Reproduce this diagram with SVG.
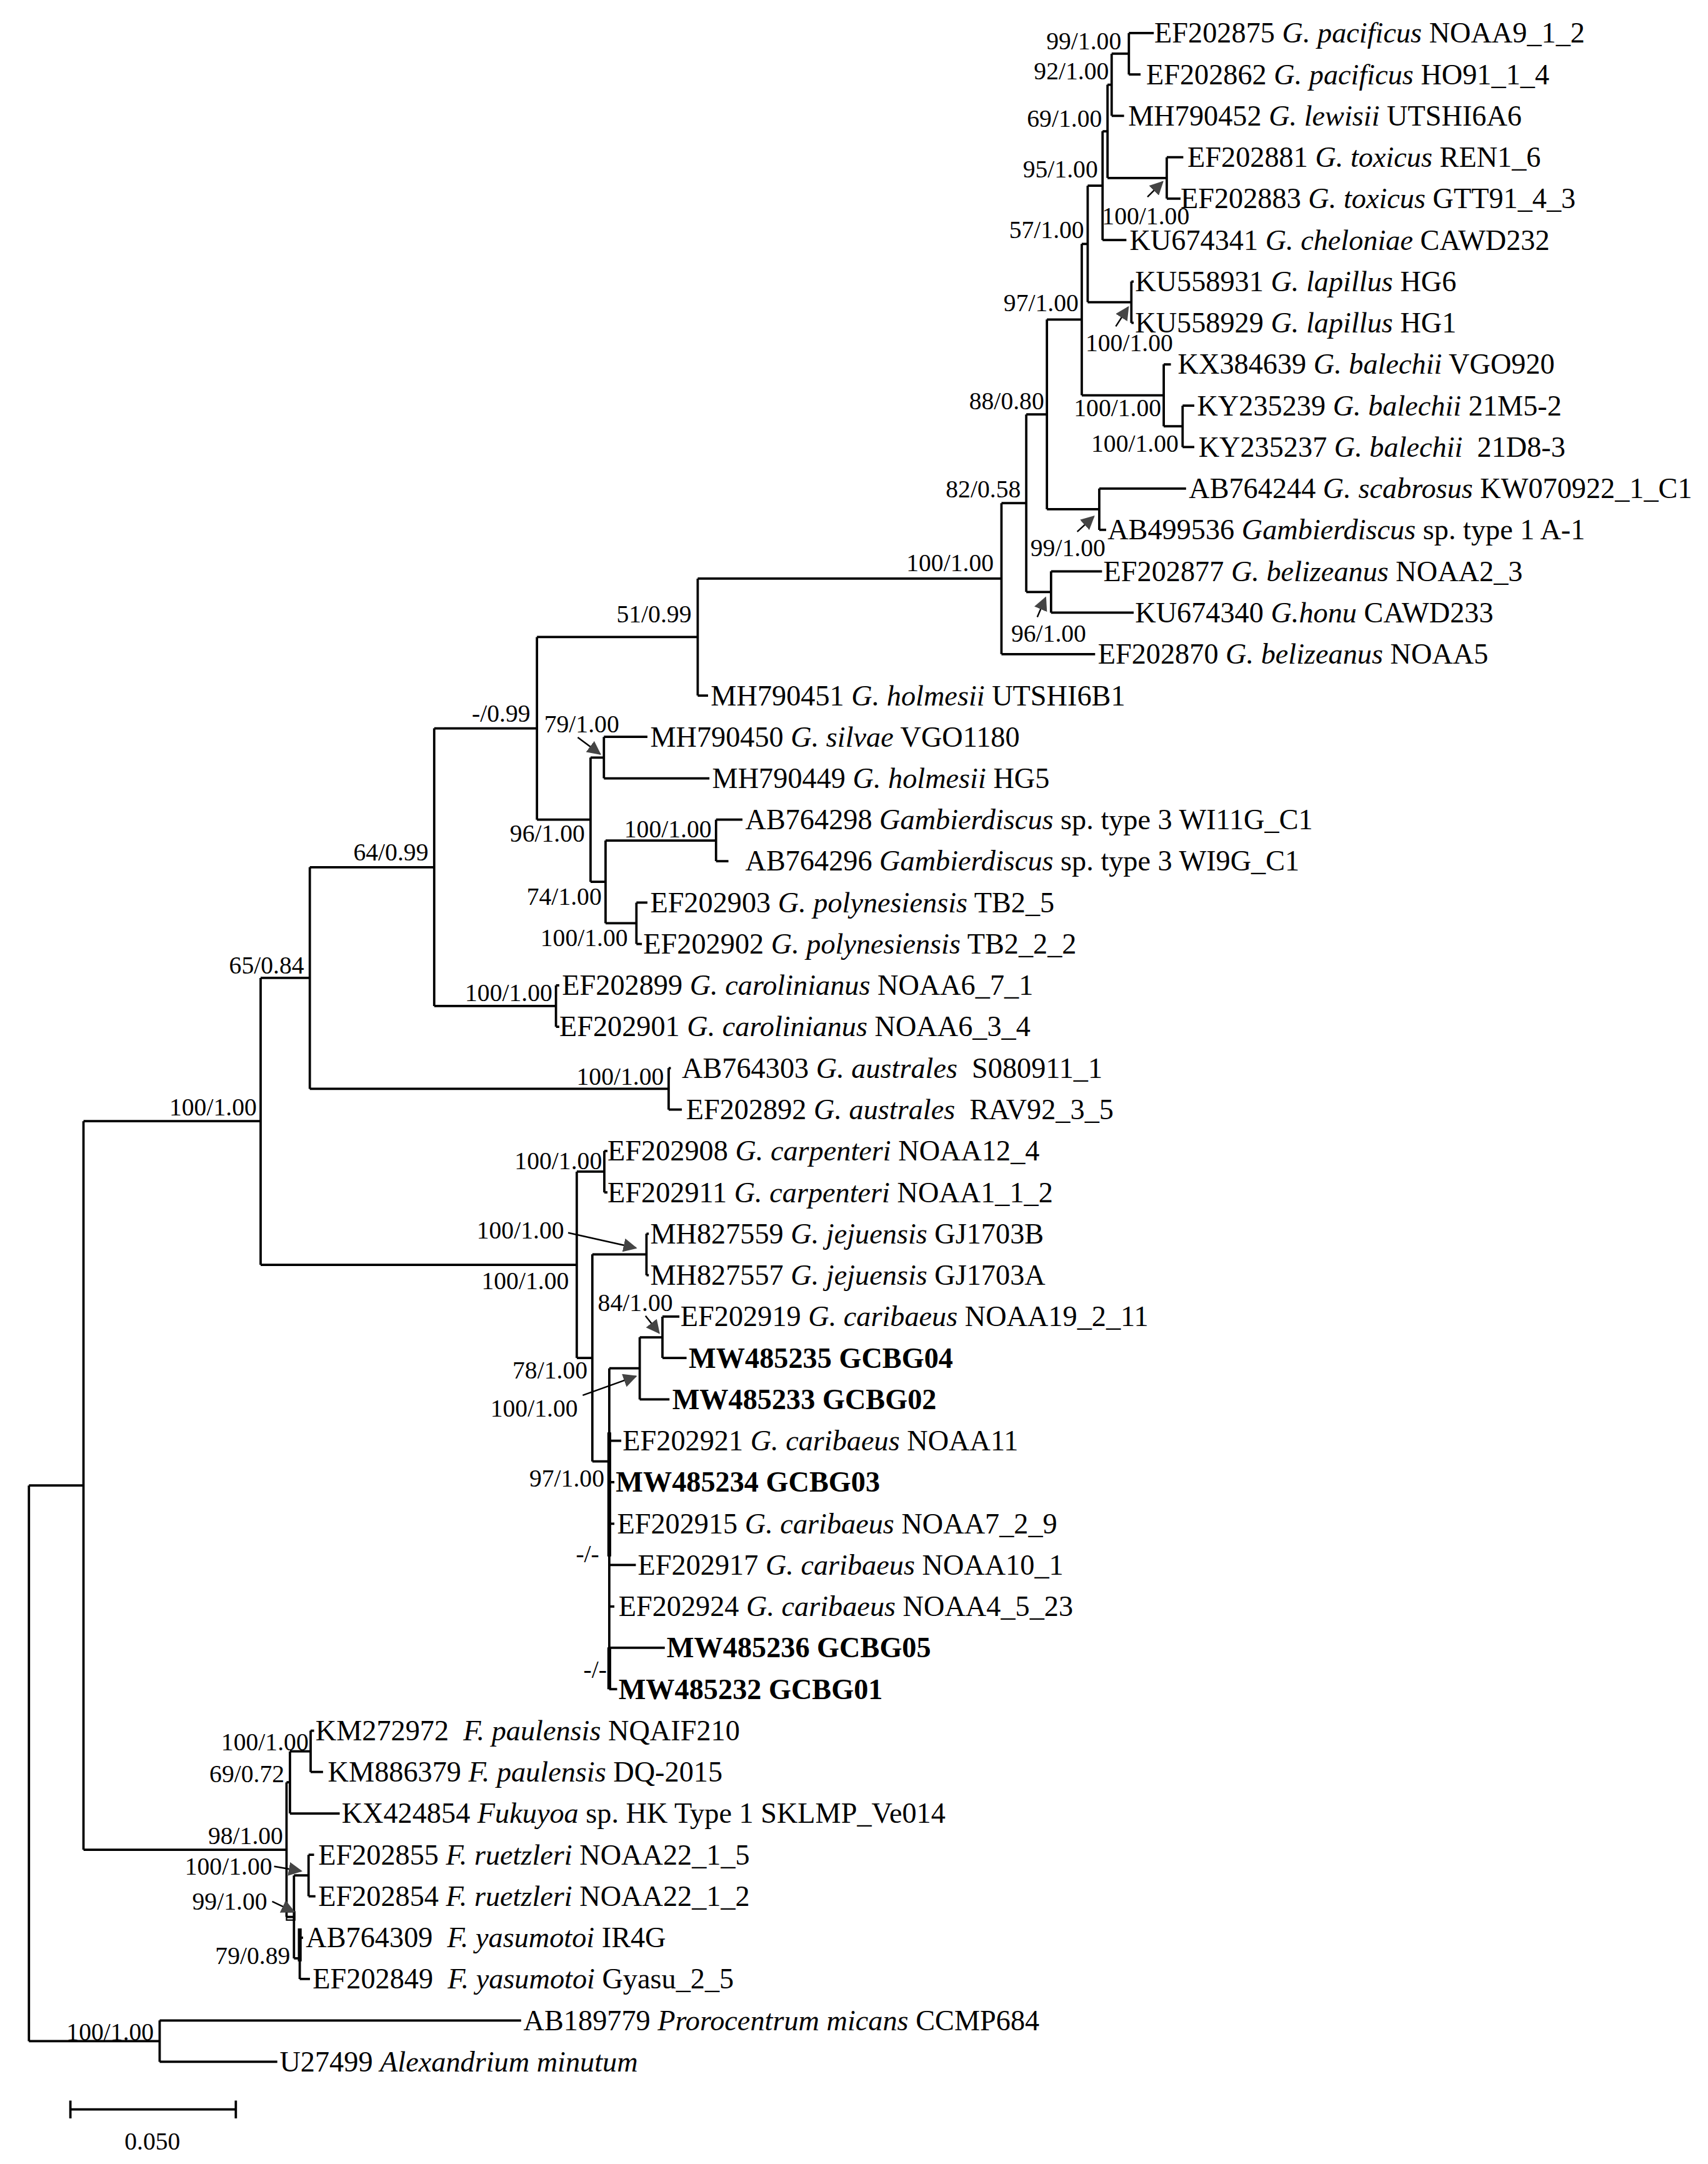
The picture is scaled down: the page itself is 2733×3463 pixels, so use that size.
<svg xmlns="http://www.w3.org/2000/svg" width="2733" height="3463" viewBox="0 0 2733 3463">
<style>
.br{fill:none;stroke:#000;stroke-width:1.7}
.th{fill:none;stroke:#000;stroke-width:2.8}
.ar{fill:none;stroke:#000;stroke-width:1.1;marker-end:url(#ah)}
text{font-family:"Liberation Serif","Times New Roman",serif;fill:#000}
.lf{font-size:21px}
.b{font-weight:bold}
.s{font-size:18px;text-anchor:end}
.ss{font-size:18px}
</style>
<defs>
<marker id="ah" markerUnits="userSpaceOnUse" markerWidth="10" markerHeight="10" refX="9" refY="5" orient="auto" viewBox="0 0 10 10"><path d="M0,0 L10,5 L0,10 z" fill="#444"/></marker>
</defs>
<rect width="2733" height="3463" fill="#fff"/>
<g transform="scale(2.2042)">
<g id="connectors">
<path class="br" d="M819.5 24V54.1M819.5 24H837.6M819.5 54.1H828
M807 39V84.1M807 39H819.5M807 84.1H816
M847 114.2V144.2M847 114.2H859M847 144.2H857
M804 61.5V129.2M804 61.5H807M804 129.2H847
M800.4 95.3V174.3M800.4 95.3H804M800.4 174.3H817.7
M821.3 204.4V234.4M821.3 204.4H823M821.3 234.4H823
M789.6 134.8V219.4M789.6 134.8H800.4M789.6 219.4H821.3
M858.5 294.5V324.6M858.5 294.5H867M858.5 324.6H867
M844.8 264.5V309.5M844.8 264.5H850M844.8 309.5H858.5
M785.3 177.1V287M785.3 177.1H789.6M785.3 287H844.8
M798 354.7V384.7M798 354.7H861M798 384.7H803
M760 232V369.7M760 232H785.3M760 369.7H798
M763 414.8V444.8M763 414.8H800M763 444.8H823
M745 300.9V429.8M745 300.9H760M745 429.8H763
M727 365.3V474.9M727 365.3H745M727 474.9H795
M506.5 420.1V505M506.5 420.1H727M506.5 505H514
M438.4 535V565.1M438.4 535H470M438.4 565.1H515
M519.8 595.1V625.2M519.8 595.1H539M519.8 625.2H528.8
M462 655.3V685.3M462 655.3H470M462 685.3H466
M439.6 610.2V670.3M439.6 610.2H519.8M439.6 670.3H462
M428.7 550V640.2M428.7 550H438.4M428.7 640.2H439.6
M389.8 462.5V595.1M389.8 462.5H506.5M389.8 595.1H428.7
M403.6 715.4V745.4M403.6 715.4H406M403.6 745.4H406
M315.2 528.8V730.4M315.2 528.8H389.8M315.2 730.4H403.6
M485.4 775.5V805.6M485.4 775.5H487M485.4 805.6H495
M224.9 629.6V790.5M224.9 629.6H315.2M224.9 790.5H485.4
M438.7 835.6V865.7M438.7 835.6H441M438.7 865.7H441
M469.3 895.7V925.8M469.3 895.7H471M469.3 925.8H471
M480.9 955.9V985.9M480.9 955.9H493.2M480.9 985.9H498.4
M464.4 970.9V1016M464.4 970.9H480.9M464.4 1016H486
M442.3 993.4V1226.4M442.3 993.4H464.4M442.3 1046H451M442.3 1076.1H446M442.3 1106.2H446M442.3 1136.2H461.6M442.3 1166.3H446M442.3 1196.3H482.6M442.3 1226.4H448
M430 910.7V1061M430 910.7H469.3M430 1061H442.3
M418.7 850.6V985.9M418.7 850.6H438.7M418.7 985.9H430
M189.2 710V918.3M189.2 710H224.9M189.2 918.3H418.7
M225.5 1256.5V1286.5M225.5 1256.5H228M225.5 1286.5H234.5
M210.5 1271.5V1316.6M210.5 1271.5H225.5M210.5 1316.6H246.6
M224 1346.6V1376.7M224 1346.6H228M224 1376.7H229
M217.6 1406.8V1436.8M217.6 1406.8H220M217.6 1436.8H225
M213.4 1361.6V1421.8M213.4 1361.6H224M213.4 1421.8H217.6
M208 1294V1391.7M208 1294H210.5M208 1391.7H213.4
M60.6 814V1342.9M60.6 814H189.2M60.6 1342.9H208
M115.9 1466.9V1496.9M115.9 1466.9H378.3M115.9 1496.9H201.3
M21 1078.5V1481.9M21 1078.5H60.6M21 1481.9H115.9"/>
<path class="th" d="M442.3 1040V1130M442.3 1196V1226.4M217.6 1400V1424"/>
<rect x="208" y="1388" width="6" height="6" fill="none" stroke="#000" stroke-width="1"/>
<path class="ar" d="M833 143L844 132"/>
<path class="ar" d="M810 237L819 223"/>
<path class="ar" d="M782 386L794 375"/>
<path class="ar" d="M753 448L759 434"/>
<path class="ar" d="M419.4 535.3L435.6 547.4"/>
<path class="ar" d="M412.4 895L461.6 906"/>
<path class="ar" d="M423 1013L461.6 999.2"/>
<path class="ar" d="M468.6 955.3L478.4 967.7"/>
<path class="ar" d="M199 1355L218.6 1358.4"/>
<path class="ar" d="M197.6 1380.5L213.4 1388"/>
<path class="br" d="M51.1 1531.5H171.2M51.1 1525V1538M171.2 1525V1538"/>
</g>
<g id="leaves" class="lf">
<g id="n0"><text x="838" y="31">EF202875 <tspan font-style="italic">G. pacificus</tspan> NOAA9_1_2</text></g>
<g id="n1"><text x="832" y="61.1">EF202862 <tspan font-style="italic">G. pacificus</tspan> HO91_1_4</text></g>
<g id="n2"><text x="819" y="91.1">MH790452 <tspan font-style="italic">G. lewisii</tspan> UTSHI6A6</text></g>
<g id="n3"><text x="862" y="121.2">EF202881 <tspan font-style="italic">G. toxicus</tspan> REN1_6</text></g>
<g id="n4"><text x="857" y="151.2">EF202883 <tspan font-style="italic">G. toxicus</tspan> GTT91_4_3</text></g>
<g id="n5"><text x="820" y="181.3">KU674341 <tspan font-style="italic">G. cheloniae</tspan> CAWD232</text></g>
<g id="n6"><text x="824" y="211.4">KU558931 <tspan font-style="italic">G. lapillus</tspan> HG6</text></g>
<g id="n7"><text x="824" y="241.4">KU558929 <tspan font-style="italic">G. lapillus</tspan> HG1</text></g>
<g id="n8"><text x="855" y="271.5">KX384639 <tspan font-style="italic">G. balechii</tspan> VGO920</text></g>
<g id="n9"><text x="869" y="301.5">KY235239 <tspan font-style="italic">G. balechii</tspan> 21M5-2</text></g>
<g id="n10"><text x="870" y="331.6">KY235237 <tspan font-style="italic">G. balechii</tspan> &#160;21D8-3</text></g>
<g id="n11"><text x="863" y="361.7">AB764244 <tspan font-style="italic">G. scabrosus</tspan> KW070922_1_C1</text></g>
<g id="n12"><text x="804" y="391.7">AB499536 <tspan font-style="italic">Gambierdiscus</tspan> sp. type 1 A-1</text></g>
<g id="n13"><text x="801" y="421.8">EF202877 <tspan font-style="italic">G. belizeanus</tspan> NOAA2_3</text></g>
<g id="n14"><text x="824" y="451.8">KU674340 <tspan font-style="italic">G.honu</tspan> CAWD233</text></g>
<g id="n15"><text x="797" y="481.9">EF202870 <tspan font-style="italic">G. belizeanus</tspan> NOAA5</text></g>
<g id="n16"><text x="516" y="512">MH790451 <tspan font-style="italic">G. holmesii</tspan> UTSHI6B1</text></g>
<g id="n17"><text x="472" y="542">MH790450 <tspan font-style="italic">G. silvae</tspan> VGO1180</text></g>
<g id="n18"><text x="517" y="572.1">MH790449 <tspan font-style="italic">G. holmesii</tspan> HG5</text></g>
<g id="n19"><text x="541" y="602.1">AB764298 <tspan font-style="italic">Gambierdiscus</tspan> sp. type 3 WI11G_C1</text></g>
<g id="n20"><text x="541" y="632.2">AB764296 <tspan font-style="italic">Gambierdiscus</tspan> sp. type 3 WI9G_C1</text></g>
<g id="n21"><text x="472" y="662.3">EF202903 <tspan font-style="italic">G. polynesiensis</tspan> TB2_5</text></g>
<g id="n22"><text x="467" y="692.3">EF202902 <tspan font-style="italic">G. polynesiensis</tspan> TB2_2_2</text></g>
<g id="n23"><text x="408" y="722.4">EF202899 <tspan font-style="italic">G. carolinianus</tspan> NOAA6_7_1</text></g>
<g id="n24"><text x="406" y="752.4">EF202901 <tspan font-style="italic">G. carolinianus</tspan> NOAA6_3_4</text></g>
<g id="n25"><text x="495" y="782.5">AB764303 <tspan font-style="italic">G. australes</tspan> &#160;S080911_1</text></g>
<g id="n26"><text x="498" y="812.6">EF202892 <tspan font-style="italic">G. australes</tspan> &#160;RAV92_3_5</text></g>
<g id="n27"><text x="441" y="842.6">EF202908 <tspan font-style="italic">G. carpenteri</tspan> NOAA12_4</text></g>
<g id="n28"><text x="441" y="872.7">EF202911 <tspan font-style="italic">G. carpenteri</tspan> NOAA1_1_2</text></g>
<g id="n29"><text x="472" y="902.7">MH827559 <tspan font-style="italic">G. jejuensis</tspan> GJ1703B</text></g>
<g id="n30"><text x="472" y="932.8">MH827557 <tspan font-style="italic">G. jejuensis</tspan> GJ1703A</text></g>
<g id="n31"><text x="494" y="962.9">EF202919 <tspan font-style="italic">G. caribaeus</tspan> NOAA19_2_11</text></g>
<g id="n32"><text class="b" x="500" y="992.9">MW485235 GCBG04</text></g>
<g id="n33"><text class="b" x="488" y="1023">MW485233 GCBG02</text></g>
<g id="n34"><text x="452" y="1053">EF202921 <tspan font-style="italic">G. caribaeus</tspan> NOAA11</text></g>
<g id="n35"><text class="b" x="447" y="1083.1">MW485234 GCBG03</text></g>
<g id="n36"><text x="448" y="1113.2">EF202915 <tspan font-style="italic">G. caribaeus</tspan> NOAA7_2_9</text></g>
<g id="n37"><text x="463" y="1143.2">EF202917 <tspan font-style="italic">G. caribaeus</tspan> NOAA10_1</text></g>
<g id="n38"><text x="449" y="1173.3">EF202924 <tspan font-style="italic">G. caribaeus</tspan> NOAA4_5_23</text></g>
<g id="n39"><text class="b" x="484" y="1203.3">MW485236 GCBG05</text></g>
<g id="n40"><text class="b" x="449" y="1233.4">MW485232 GCBG01</text></g>
<g id="n41"><text x="229" y="1263.5">KM272972 &#160;<tspan font-style="italic">F. paulensis</tspan> NQAIF210</text></g>
<g id="n42"><text x="238" y="1293.5">KM886379 <tspan font-style="italic">F. paulensis</tspan> DQ-2015</text></g>
<g id="n43"><text x="248" y="1323.6">KX424854 <tspan font-style="italic">Fukuyoa</tspan> sp. HK Type 1 SKLMP_Ve014</text></g>
<g id="n44"><text x="231" y="1353.6">EF202855 <tspan font-style="italic">F. ruetzleri</tspan> NOAA22_1_5</text></g>
<g id="n45"><text x="231" y="1383.7">EF202854 <tspan font-style="italic">F. ruetzleri</tspan> NOAA22_1_2</text></g>
<g id="n46"><text x="222" y="1413.8">AB764309 &#160;<tspan font-style="italic">F. yasumotoi</tspan> IR4G</text></g>
<g id="n47"><text x="227" y="1443.8">EF202849 &#160;<tspan font-style="italic">F. yasumotoi</tspan> Gyasu_2_5</text></g>
<g id="n48"><text x="380" y="1473.9">AB189779 <tspan font-style="italic">Prorocentrum micans</tspan> CCMP684</text></g>
<g id="n49"><text x="203" y="1503.9">U27499 <tspan font-style="italic">Alexandrium minutum</tspan></text></g>
</g>
<g id="supports">
<text class="s" x="814" y="36">99/1.00</text>
<text class="s" x="805" y="57.5">92/1.00</text>
<text class="s" x="800" y="92">69/1.00</text>
<text class="s" x="797" y="129">95/1.00</text>
<text class="ss" x="800" y="163">100/1.00</text>
<text class="s" x="787" y="173">57/1.00</text>
<text class="ss" x="788" y="255">100/1.00</text>
<text class="s" x="783" y="226">97/1.00</text>
<text class="s" x="843" y="302">100/1.00</text>
<text class="s" x="855.6" y="328">100/1.00</text>
<text class="s" x="758" y="297">88/0.80</text>
<text class="ss" x="748" y="404">99/1.00</text>
<text class="s" x="741" y="361">82/0.58</text>
<text class="ss" x="734" y="466">96/1.00</text>
<text class="s" x="721.4" y="414.6">100/1.00</text>
<text class="s" x="502" y="452">51/0.99</text>
<text class="s" x="385" y="524">-/0.99</text>
<text class="ss" x="395" y="531.5">79/1.00</text>
<text class="s" x="424.6" y="611">96/1.00</text>
<text class="s" x="516.6" y="608">100/1.00</text>
<text class="s" x="436.8" y="657">74/1.00</text>
<text class="s" x="455.8" y="687">100/1.00</text>
<text class="s" x="401" y="727">100/1.00</text>
<text class="s" x="311" y="624.6">64/0.99</text>
<text class="s" x="220.8" y="706.8">65/0.84</text>
<text class="s" x="482" y="787.7">100/1.00</text>
<text class="s" x="186.4" y="809.6">100/1.00</text>
<text class="s" x="437" y="848.8">100/1.00</text>
<text class="s" x="413" y="935.8">100/1.00</text>
<text class="s" x="426.5" y="1001">78/1.00</text>
<text class="ss" x="346" y="899">100/1.00</text>
<text class="ss" x="356" y="1028.6">100/1.00</text>
<text class="ss" x="434" y="951.7">84/1.00</text>
<text class="s" x="438.7" y="1079.4">97/1.00</text>
<text class="s" x="435" y="1134.3">-/-</text>
<text class="s" x="440.5" y="1218">-/-</text>
<text class="s" x="224" y="1270.7">100/1.00</text>
<text class="s" x="206.5" y="1293.8">69/0.72</text>
<text class="s" x="205.5" y="1339">98/1.00</text>
<text class="s" x="197.6" y="1361">100/1.00</text>
<text class="s" x="194" y="1386.5">99/1.00</text>
<text class="s" x="210.7" y="1426">79/0.89</text>
<text class="s" x="111.7" y="1481.3">100/1.00</text>
<text class="ss" x="110.6" y="1560.6" text-anchor="middle">0.050</text>
</g>
</g>
</svg>
